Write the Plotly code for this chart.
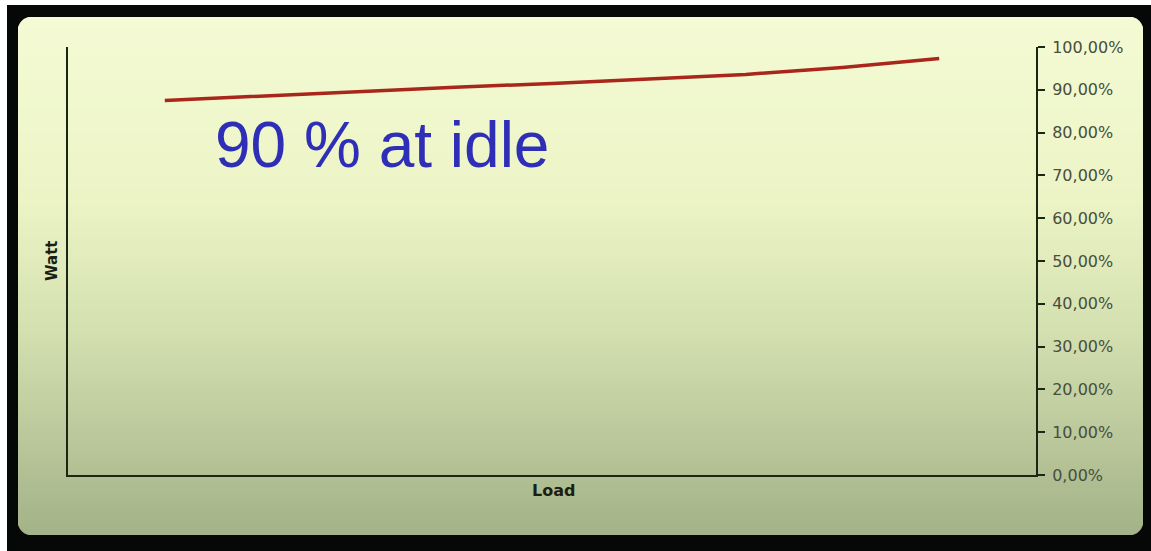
import plotly.graph_objects as go

# ---- data ----
load = [10, 20, 30, 40, 50, 60, 70, 80, 90]
efficiency = [0.875, 0.886, 0.897, 0.906, 0.915, 0.925, 0.936, 0.952, 0.973]
y_ticks = [0, 0.1, 0.2, 0.3, 0.4, 0.5, 0.6, 0.7, 0.8, 0.9, 1.0]
note_text = "90 % at idle"
x_title = "Load"
y_title = "Watt"

W, H = 1151, 551
L, R, T, B = 68, 1036, 47, 475  # plot area in pixels


def px(x):
    return (x - L) / (R - L)


def py(y):
    return (B - y) / (B - T)


shapes = []
# black frame
shapes.append(dict(type="rect", xref="paper", yref="paper", x0=px(7), x1=px(W + 2), y0=py(H + 2), y1=py(5),
                   fillcolor="#050807", line=dict(width=0), layer="below"))

# gradient panel
stops = [(17, (244, 251, 212)), (200, (236, 244, 198)), (330, (212, 224, 176)), (535, (163, 178, 136))]


def col(y):
    for (y0, c0), (y1, c1) in zip(stops[:-1], stops[1:]):
        if y0 <= y <= y1:
            t = (y - y0) / (y1 - y0)
            return "rgb(%d,%d,%d)" % tuple(round(a + (b - a) * t) for a, b in zip(c0, c1))
    return "rgb(%d,%d,%d)" % stops[-1][1]


step = 4
y = 17
while y < 535:
    y2 = min(y + step, 535)
    shapes.append(dict(type="rect", xref="paper", yref="paper", x0=px(18), x1=px(1143),
                       y0=py(min(y2 + 1.5, 535)), y1=py(y), fillcolor=col((y + y2) / 2),
                       line=dict(width=0), layer="below"))
    y = y2

# rounded corners masks
r = 16
corners = [((18, 17), (1, 1)), ((1143, 17), (-1, 1)), ((18, 535), (1, -1)), ((1143, 535), (-1, -1))]
for (cx, cy), (dx, dy) in corners:
    ox, oy = cx - dx * 1, cy - dy * 1
    path = "M %f,%f L %f,%f Q %f,%f %f,%f Z" % (
        px(ox), py(oy), px(cx + dx * r), py(oy), px(cx), py(cy), px(ox), py(cy + dy * r))
    shapes.append(dict(type="path", xref="paper", yref="paper", path=path,
                       fillcolor="#050807", line=dict(width=0), layer="below"))

fig = go.Figure()
fig.add_trace(go.Scatter(x=load, y=efficiency, mode="lines",
                         line=dict(color="#a8261a", width=3.5), showlegend=False,
                         hoverinfo="skip"))

fig.update_layout(
    width=W, height=H,
    margin=dict(l=L, r=W - R, t=T, b=H - B, autoexpand=False),
    paper_bgcolor="white",
    plot_bgcolor="rgba(0,0,0,0)",
    separators=",.",
    shapes=shapes,
    xaxis=dict(range=[0, 100], showgrid=False, zeroline=False, showticklabels=False,
               ticks="", showline=True, linecolor="#1c2614", linewidth=2),
    yaxis=dict(range=[0, 1], side="right", showgrid=False, zeroline=False,
               tickvals=y_ticks, tickformat=".2%", ticks="outside", ticklen=7,
               tickcolor="#1c2614", tickwidth=1.5, showline=True, mirror=True,
               linecolor="#1c2614", linewidth=2, ticklabelstandoff=4,
               tickfont=dict(family="DejaVu Sans", size=16, color="#474e3c")),
    annotations=[
        dict(text=note_text, xref="paper", yref="paper", x=px(213), y=py(145),
             xanchor="left", yanchor="middle", showarrow=False,
             font=dict(family="Liberation Sans", size=64, color="#2e2eb6")),
        dict(text="<b>%s</b>" % x_title, xref="paper", yref="paper", x=px(553), y=py(490),
             xanchor="center", yanchor="middle", showarrow=False,
             font=dict(family="DejaVu Sans", size=16, color="#1a1f12")),
        dict(text="<b>%s</b>" % y_title, xref="paper", yref="paper", x=px(52), y=py(261),
             xanchor="center", yanchor="middle", showarrow=False, textangle=-90,
             font=dict(family="DejaVu Sans", size=15, color="#1a1f12")),
    ],
)

fig.write_html("out.html", config={"displayModeBar": False},
               post_script="document.body.style.margin='0px';")
